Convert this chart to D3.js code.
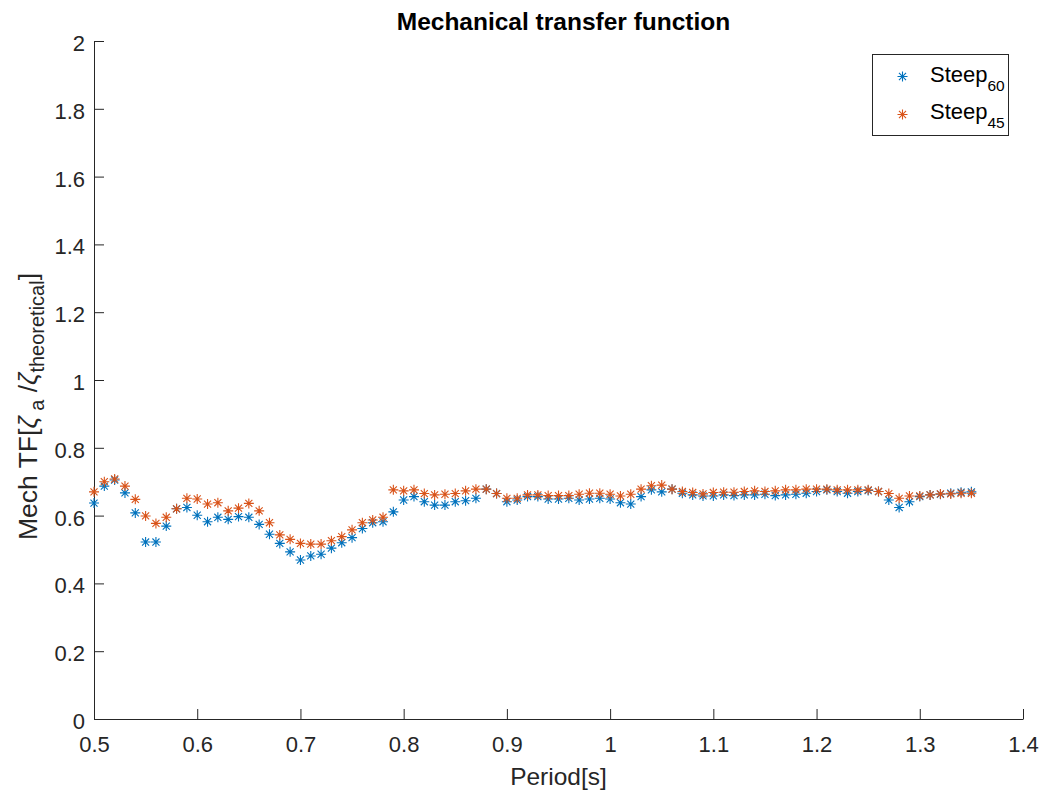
<!DOCTYPE html>
<html>
<head>
<meta charset="utf-8">
<script src="https://cdn.jsdelivr.net/npm/d3@7"></script>
<style>
  html, body { margin: 0; padding: 0; background: #fff; }
  svg { display: block; font-family: "Liberation Sans", Arial, Helvetica, sans-serif; }
</style>
</head>
<body>
<svg id="chart" width="1042" height="790"></svg>
<script>
// Periods (s), 0.50 .. 1.35 in 0.01 steps
const periods = d3.range(86).map(i => +(0.5 + i * 0.01).toFixed(2));

// Mechanical transfer function for each steepness
const steep60 = [
  0.637, 0.687, 0.705, 0.667, 0.608, 0.522, 0.522, 0.569, 0.620, 0.624,
  0.601, 0.582, 0.595, 0.589, 0.597, 0.595, 0.574, 0.545, 0.518, 0.493,
  0.469, 0.481, 0.486, 0.504, 0.520, 0.535, 0.562, 0.579, 0.582, 0.611,
  0.646, 0.656, 0.641, 0.631, 0.631, 0.641, 0.644, 0.651, 0.678, 0.665,
  0.641, 0.646, 0.656, 0.656, 0.649, 0.649, 0.651, 0.646, 0.649, 0.651,
  0.649, 0.638, 0.634, 0.656, 0.676, 0.670, 0.678, 0.666, 0.661, 0.658,
  0.658, 0.661, 0.659, 0.661, 0.661, 0.663, 0.659, 0.661, 0.663, 0.666,
  0.671, 0.676, 0.671, 0.666, 0.671, 0.674, 0.671, 0.646, 0.624, 0.641,
  0.656, 0.661, 0.663, 0.666, 0.669, 0.670
];
const steep45 = [
  0.670, 0.700, 0.708, 0.687, 0.648, 0.599, 0.577, 0.595, 0.620, 0.651,
  0.649, 0.634, 0.638, 0.614, 0.622, 0.636, 0.614, 0.579, 0.543, 0.530,
  0.518, 0.516, 0.516, 0.526, 0.538, 0.558, 0.579, 0.587, 0.595, 0.676,
  0.673, 0.676, 0.665, 0.661, 0.663, 0.665, 0.673, 0.678, 0.678, 0.665,
  0.651, 0.651, 0.661, 0.661, 0.659, 0.659, 0.659, 0.663, 0.666, 0.666,
  0.663, 0.658, 0.663, 0.678, 0.688, 0.690, 0.678, 0.671, 0.668, 0.664,
  0.668, 0.669, 0.669, 0.671, 0.673, 0.671, 0.673, 0.676, 0.676, 0.678,
  0.678, 0.678, 0.676, 0.676, 0.676, 0.676, 0.671, 0.665, 0.651, 0.658,
  0.658, 0.661, 0.664, 0.664, 0.666, 0.666
];

const xTicks = [0.5, 0.6, 0.7, 0.8, 0.9, 1, 1.1, 1.2, 1.3, 1.4];
const yTicks = [0, 0.2, 0.4, 0.6, 0.8, 1, 1.2, 1.4, 1.6, 1.8, 2];

const seriesNames = ["60", "45"];
const seriesColors = ["#0072BD", "#D95319"];

const axisColor = "#262626";
const margin = { left: 94, right: 1023, top: 41, bottom: 719 };

const svg = d3.select("#chart");

const x = d3.scaleLinear().domain([0.5, 1.4]).range([margin.left, margin.right]);
const y = d3.scaleLinear().domain([0, 2]).range([margin.bottom, margin.top]);

const fmt = d => String(+d.toFixed(1));

// Axes with inward ticks
const xAxis = d3.axisBottom(x).tickValues(xTicks).tickFormat(fmt).tickSizeInner(-10).tickSizeOuter(0);
const yAxis = d3.axisLeft(y).tickValues(yTicks).tickFormat(fmt).tickSizeInner(-10).tickSizeOuter(0);

const gx = svg.append("g").attr("transform", `translate(0,${margin.bottom})`).call(xAxis);
const gy = svg.append("g").attr("transform", `translate(${margin.left},0)`).call(yAxis);

[gx, gy].forEach(g => {
  g.attr("font-family", null).attr("font-size", null);
  g.select(".domain").attr("stroke", axisColor).attr("stroke-width", 1);
  g.selectAll(".tick line").attr("stroke", axisColor).attr("stroke-width", 1);
  g.selectAll(".tick text").attr("fill", axisColor).attr("font-size", 22);
});
gx.selectAll(".tick text").attr("y", 33).attr("dy", 0);
gy.selectAll(".tick text").attr("x", -9).attr("dy", 0).attr("y", 9.5);

// Asterisk marker path (horizontal, vertical, two diagonals)
function starPath(r) {
  const d = r * Math.SQRT1_2;
  return `M${-r},0L${r},0M0,${-r}L0,${r}M${-d},${-d}L${d},${d}M${-d},${d}L${d},${-d}`;
}

const allSeries = [steep60, steep45];
allSeries.forEach((vals, si) => {
  svg.append("g")
    .selectAll("path")
    .data(vals)
    .join("path")
    .attr("transform", (v, i) => `translate(${x(periods[i])},${y(v)})`)
    .attr("d", starPath(5))
    .attr("fill", "none")
    .attr("stroke", seriesColors[si])
    .attr("stroke-width", 1.1);
});

// Title
svg.append("text")
  .attr("x", (margin.left + margin.right) / 2 + 5)
  .attr("y", 30)
  .attr("text-anchor", "middle")
  .attr("font-size", 24.5)
  .attr("font-weight", "bold")
  .attr("fill", "#000")
  .text("Mechanical transfer function");

// X label
svg.append("text")
  .attr("x", (margin.left + margin.right) / 2)
  .attr("y", 785)
  .attr("text-anchor", "middle")
  .attr("font-size", 24.5)
  .attr("fill", axisColor)
  .text("Period[s]");

// Y label with subscripts
const yl = svg.append("text")
  .attr("transform", `translate(37,540) rotate(-90)`)
  .attr("text-anchor", "start")
  .attr("font-size", 26.5)
  .attr("fill", axisColor);
yl.append("tspan").text("Mech TF[");
yl.append("tspan").attr("font-style", "italic").text("ζ");
yl.append("tspan").attr("font-size", 20).attr("dy", 7).text(" a");
yl.append("tspan").attr("dy", -7).text(" /");
yl.append("tspan").attr("font-style", "italic").text("ζ");
yl.append("tspan").attr("font-size", 20).attr("dy", 7).text("theoretical");
yl.append("tspan").attr("dy", -7).text("]");

// Legend
const lg = svg.append("g");
lg.append("rect")
  .attr("x", 872.5).attr("y", 54.5).attr("width", 136).attr("height", 81)
  .attr("fill", "#fff").attr("stroke", axisColor).attr("stroke-width", 1);
seriesNames.forEach((n, i) => {
  const cy = 76.5 + i * 38;
  lg.append("path")
    .attr("transform", `translate(902.5,${cy})`)
    .attr("d", starPath(5))
    .attr("fill", "none")
    .attr("stroke", seriesColors[i])
    .attr("stroke-width", 1.1);
  const t = lg.append("text")
    .attr("x", 930).attr("y", 82 + i * 36.5)
    .attr("font-size", 22).attr("fill", "#000");
  t.append("tspan").text("Steep");
  t.append("tspan").attr("font-size", 15.5).attr("dy", 9).text(n);
});
</script>
</body>
</html>
